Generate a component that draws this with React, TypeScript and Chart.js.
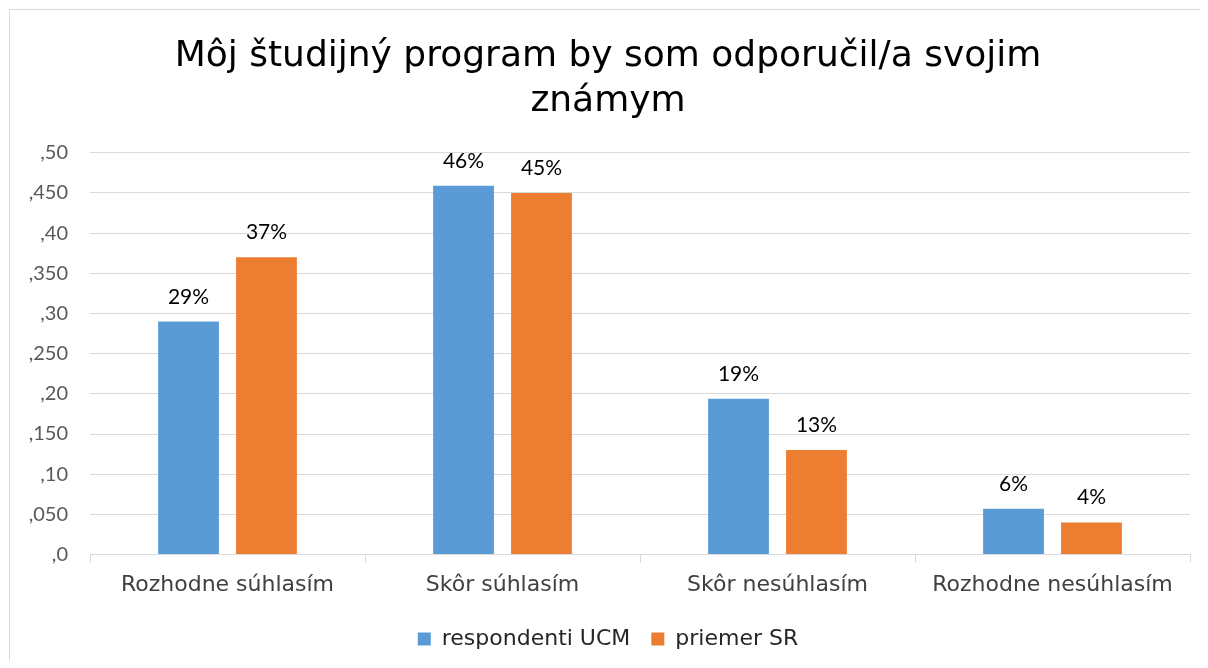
import React, { useEffect, useRef } from "react";
import { Chart, registerables } from "chart.js";

Chart.register(...registerables);

const titleLines = ["Môj študijný program by som odporučil/a svojim", "známym"];
const categories = ["Rozhodne súhlasím", "Skôr súhlasím", "Skôr nesúhlasím", "Rozhodne nesúhlasím"];
const seriesNames = ["respondenti UCM", "priemer SR"];
const respondentiUCM = [0.29, 0.459, 0.194, 0.057];
const priemerSR = [0.37, 0.45, 0.13, 0.04];
const yTickLabels = [",0", ",050", ",10", ",150", ",20", ",250", ",30", ",350", ",40", ",450", ",50"];

const BLUE = "#5B9BD5";
const ORANGE = "#ED7D31";
const GRID = "#D9D9D9";
const SQUARE_FONT = "'DejaVu Sans', sans-serif";
const NUM_FONT = "Lato, 'Open Sans', sans-serif";

const dataLabelPlugin = {
  id: "dataLabels",
  afterDatasetsDraw(chart: any) {
    const ctx = chart.ctx;
    ctx.save();
    ctx.font = `21px ${NUM_FONT}`;
    ctx.fillStyle = "#000000";
    ctx.textAlign = "center";
    ctx.textBaseline = "alphabetic";
    chart.data.datasets.forEach((ds: any, di: number) => {
      const meta = chart.getDatasetMeta(di);
      meta.data.forEach((el: any, i: number) => {
        const v = ds.data[i] as number;
        ctx.fillText(`${Math.round(v * 100)}%`, el.x, el.y - 18);
      });
    });
    ctx.restore();
  },
};

export default function App() {
  const ref = useRef<HTMLCanvasElement | null>(null);

  useEffect(() => {
    if (!ref.current) return;
    const chart = new Chart(ref.current, {
      type: "bar",
      data: {
        labels: categories,
        datasets: [
          {
            label: seriesNames[0],
            data: respondentiUCM,
            backgroundColor: BLUE,
            borderWidth: 0,
            categoryPercentage: 0.567,
            barPercentage: 0.78,
          },
          {
            label: seriesNames[1],
            data: priemerSR,
            backgroundColor: ORANGE,
            borderWidth: 0,
            categoryPercentage: 0.567,
            barPercentage: 0.78,
          },
        ],
      },
      options: {
        animation: false,
        responsive: false,
        maintainAspectRatio: false,
        layout: { padding: { left: 16, right: 20, top: 0, bottom: 30 } },
        plugins: {
          title: {
            display: true,
            text: titleLines,
            color: "#000000",
            font: { family: SQUARE_FONT, size: 36, weight: "normal", lineHeight: 1.26 },
            padding: { top: 24, bottom: 28 },
          },
          legend: {
            display: true,
            position: "bottom",
            labels: {
              boxWidth: 13,
              boxHeight: 13,
              padding: 21,
              color: "#262626",
              font: { family: SQUARE_FONT, size: 22 },
            },
          },
          tooltip: { enabled: false },
        },
        scales: {
          x: {
            grid: {
              offset: true,
              drawOnChartArea: false,
              color: GRID,
              tickLength: 8,
            },
            border: { color: GRID, width: 1 },
            ticks: {
              color: "#404040",
              padding: 9,
              font: { family: SQUARE_FONT, size: 22 },
              maxRotation: 0,
            },
          },
          y: {
            min: 0,
            max: 0.5,
            afterFit: (scale: any) => {
              scale.width = 64;
            },
            ticks: {
              stepSize: 0.05,
              color: "#595959",
              padding: 22,
              font: { family: NUM_FONT, size: 20 },
              callback: (_v: any, i: number) => yTickLabels[i],
            },
            grid: { color: GRID, lineWidth: 1, drawTicks: false },
            border: { display: false },
          },
        },
      },
      plugins: [dataLabelPlugin],
    });
    return () => chart.destroy();
  }, []);

  return (
    <div style={{ height: 652, overflow: "hidden" }}>
      <div
        style={{
          marginLeft: 1,
          marginTop: 1,
          width: 1210,
          height: 700,
          border: `1px solid ${GRID}`,
          boxSizing: "border-box",
          background: "#fff",
        }}
      >
        <canvas ref={ref} width={1200} height={680} style={{ display: "block", width: 1200, height: 680 }} />
      </div>
    </div>
  );
}
